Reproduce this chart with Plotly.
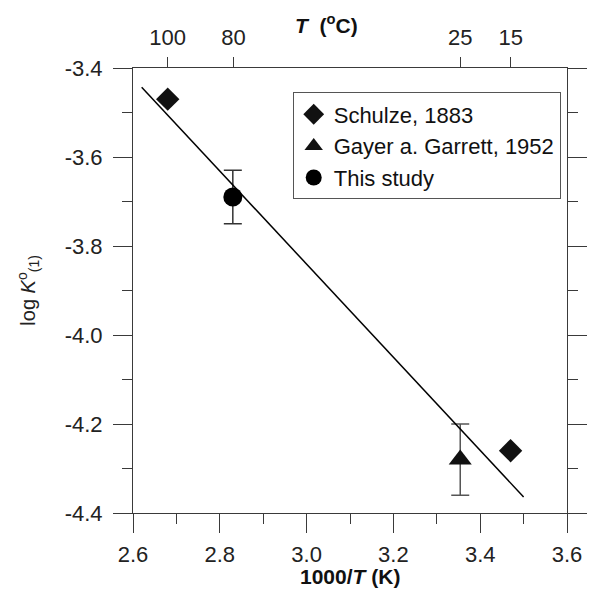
import plotly.graph_objects as go

# --- data -------------------------------------------------------------
schulze_x = [2.68, 3.47]
schulze_y = [-3.47, -4.26]

gayer_x = [3.354]
gayer_y = [-4.28]
gayer_err = [0.08]

study_x = [2.83]
study_y = [-3.69]
study_err = [0.06]

fit_x = [2.62, 3.50]
fit_y = [-3.443, -4.364]

top_T_celsius = [100, 80, 25, 15]
top_tick_text = ["100", "80", "25", "15"]
top_tick_vals = [1000.0 / (t + 273.15) for t in top_T_celsius]

x_ticks = [2.6, 2.8, 3.0, 3.2, 3.4, 3.6]
y_ticks = [-3.4, -3.6, -3.8, -4.0, -4.2, -4.4]

FONT = "Liberation Sans, Arial, sans-serif"
AX = "#3a3a3a"
TS = 22

fig = go.Figure()

# error bars (behind markers)
fig.add_trace(go.Scatter(x=gayer_x, y=gayer_y, mode="markers", showlegend=False,
                         marker=dict(size=1, opacity=0),
                         error_y=dict(type="data", array=gayer_err, color="#555555",
                                      thickness=1.5, width=9)))
fig.add_trace(go.Scatter(x=study_x, y=study_y, mode="markers", showlegend=False,
                         marker=dict(size=1, opacity=0),
                         error_y=dict(type="data", array=study_err, color="#333333",
                                      thickness=1.5, width=9)))

fig.add_trace(go.Scatter(x=schulze_x, y=schulze_y, mode="markers", name="Schulze, 1883",
                         marker=dict(symbol="diamond", size=18, color="#111111")))
fig.add_trace(go.Scatter(x=gayer_x, y=gayer_y, mode="markers", name="Gayer a. Garrett, 1952",
                         marker=dict(symbol="triangle-up", size=20, color="#111111")))
fig.add_trace(go.Scatter(x=study_x, y=study_y, mode="markers", name="This study",
                         marker=dict(symbol="circle", size=19, color="#000000")))

fig.add_trace(go.Scatter(x=fit_x, y=fit_y, mode="lines", showlegend=False,
                         line=dict(color="#000000", width=1.5)))

# invisible trace to activate top axis
fig.add_trace(go.Scatter(x=[2.6, 3.6], y=[-3.4, -3.4], xaxis="x2", mode="markers",
                         marker=dict(opacity=0), showlegend=False, hoverinfo="skip"))

fig.update_layout(
    width=599, height=590,
    margin=dict(l=133, r=19, t=68, b=77),
    paper_bgcolor="white", plot_bgcolor="white",
    font=dict(family=FONT, size=TS, color="#222222"),
    showlegend=True,
    legend=dict(x=0.368, y=0.945, xanchor="left", yanchor="top",
                bgcolor="white", bordercolor="#555555", borderwidth=1,
                font=dict(family=FONT, size=22, color="#111111"),
                tracegroupgap=0, itemsizing="trace"),
    xaxis=dict(range=[2.6, 3.6], tickvals=x_ticks, ticktext=["%.1f" % v for v in x_ticks],
               showgrid=False, zeroline=False, showline=True, linecolor=AX, linewidth=1,
               mirror=True, ticks="outside", ticklen=19, tickcolor=AX, tickwidth=1,
               ticklabelstandoff=3,
               minor=dict(dtick=0.1, tick0=2.6, ticks="outside", ticklen=10,
                          tickcolor=AX, tickwidth=1, showgrid=False),
               tickfont=dict(size=TS)),
    xaxis2=dict(range=[2.6, 3.6], overlaying="x", side="top", tickvals=top_tick_vals,
                ticktext=top_tick_text, showgrid=False, zeroline=False, showline=False,
                ticks="outside", ticklen=10, tickcolor=AX, tickwidth=1,
                ticklabelstandoff=3, tickfont=dict(size=TS)),
    yaxis=dict(range=[-4.4, -3.4], tickvals=y_ticks, ticktext=["%.1f" % v for v in y_ticks],
               showgrid=False, zeroline=False, showline=True, linecolor=AX, linewidth=1,
               mirror="ticks", ticks="outside", ticklen=19, tickcolor=AX, tickwidth=1,
               ticklabelstandoff=6,
               minor=dict(dtick=0.1, tick0=-4.4, ticks="outside", ticklen=10,
                          tickcolor=AX, tickwidth=1, showgrid=False),
               tickfont=dict(size=TS)),
    annotations=[
        dict(text="<b>1000/<i>T</i> (K)</b>", xref="paper", yref="paper",
             x=0.5, y=-0.1416, xanchor="center", yanchor="middle", showarrow=False,
             font=dict(family=FONT, size=21, color="#111111")),
        dict(text="<b><i>T</i>  (<sup>o</sup>C)</b>", xref="paper", yref="paper",
             x=0.445, y=1.099, xanchor="center", yanchor="middle", showarrow=False,
             font=dict(family=FONT, size=21, color="#111111")),
        dict(text="log <i>K</i><sup>o</sup><sub>(1)</sub>", xref="paper", yref="paper",
             x=-0.2416, y=0.5, xanchor="center", yanchor="middle", showarrow=False,
             textangle=-90, font=dict(family=FONT, size=20, color="#222222")),
    ],
)

fig.write_html("out.html")
